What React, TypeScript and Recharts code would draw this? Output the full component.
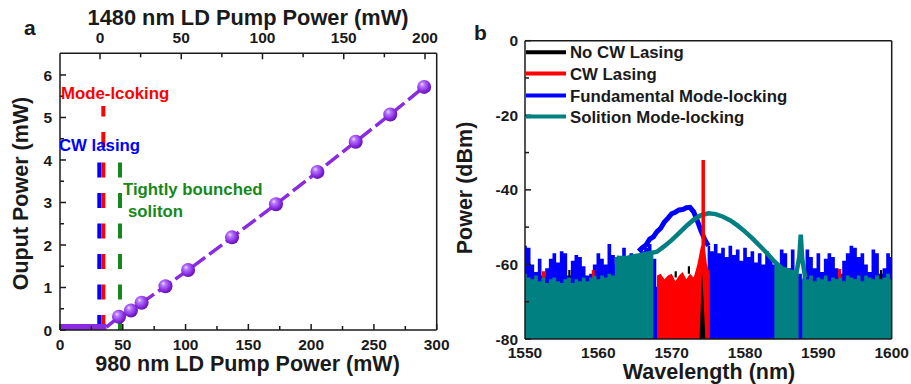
import React from 'react';
import { ComposedChart, Line, Area, Scatter, XAxis, YAxis } from 'recharts';

const FONT = '"Liberation Sans", Arial, Helvetica, sans-serif';
const INK = '#1a1a1a';
const PURPLE = '#8a2be2';
const RED = '#ff0000';
const BLUE = '#0000ff';
const TEAL = '#008080';
const GREEN = '#16881a';

// ---- panel a: output power vs. pump power ----
const PUMP_980_MW = [47, 56.5, 65, 84, 102, 137, 172, 205, 235.5, 263, 290];
const OUTPUT_MW = [0.31, 0.46, 0.64, 1.03, 1.41, 2.18, 2.96, 3.72, 4.43, 5.07, 5.72];
const SUB_THRESHOLD_PUMP = [0, 37];
const SUB_THRESHOLD_OUT = [0.07, 0.07];

// CW lasing, mode-locking, tightly bunched soliton onsets
const THRESHOLD_PUMP = [31.3, 34.5, 47.8];
const THRESHOLD_TOP = [3.94, 5.27, 3.94];
const THRESHOLD_COLORS = [BLUE, RED, GREEN];

const PUMP_980_TICKS = [0, 25, 50, 75, 100, 125, 150, 175, 200, 225, 250, 275, 300];
const PUMP_980_LABELS = [0, 50, 100, 150, 200, 250, 300];
const PUMP_1480_DOMAIN = [-24.6, 207.2];
const PUMP_1480_TICKS = [0, 25, 50, 75, 100, 125, 150, 175, 200];
const PUMP_1480_LABELS = [0, 50, 100, 150, 200];
const OUT_TICKS = [0, 0.5, 1, 1.5, 2, 2.5, 3, 3.5, 4, 4.5, 5, 5.5, 6];
const OUT_LABELS = [0, 1, 2, 3, 4, 5, 6];

// ---- panel b: optical spectra (wavelength nm, dBm) ----
const BLUE_FLOOR: [number, number][] = [
  [1550, -55], [1550.5, -55.5], [1551, -60], [1551.5, -62], [1552, -58.5], [1552.5, -63],
  [1553, -61], [1553.5, -58.5], [1554, -57], [1554.5, -59.5], [1555, -56.5], [1555.5, -57],
  [1556, -63], [1556.5, -59], [1557, -57.5], [1557.5, -58], [1558, -60.5], [1558.5, -63],
  [1559, -62.5], [1559.5, -60], [1560, -57], [1560.5, -58.5], [1561, -60], [1561.5, -54.5],
  [1562, -57.5], [1562.5, -60], [1563, -58.5], [1563.5, -55.5], [1564, -59], [1564.5, -57],
  [1565, -58.5], [1565.5, -57.5], [1566, -56.5], [1566.5, -55.5], [1567, -54.5], [1567.5, -58.5],
  [1567.8, -58.5], [1568, -66], [1569, -66], [1570, -66], [1571, -66], [1572, -66], [1573, -66],
  [1574, -66], [1574.8, -66], [1575, -55], [1575.5, -56.5], [1576, -54.5], [1576.5, -57],
  [1577, -55.5], [1577.5, -58], [1578, -55], [1578.5, -57.5], [1579, -56], [1579.5, -59],
  [1580, -55.5], [1580.5, -58], [1581, -56.5], [1581.5, -59.5], [1582, -57], [1582.5, -60],
  [1583, -56.5], [1583.5, -58.5], [1584, -60], [1584.5, -62], [1585, -56], [1585.5, -57],
  [1586, -61], [1586.5, -56], [1587, -63], [1587.5, -62.5], [1588, -64], [1588.5, -56],
  [1589, -58], [1589.5, -61], [1590, -57], [1590.5, -62], [1591, -58.5], [1591.5, -57],
  [1592, -58], [1592.5, -61], [1593, -62.5], [1593.5, -59], [1594, -57], [1594.5, -55],
  [1595, -55.5], [1595.5, -58], [1596, -57], [1596.5, -60], [1597, -62], [1597.5, -56],
  [1598, -57], [1598.5, -62.5], [1599, -61], [1599.5, -57], [1600, -58],
];

const BLUE_HUMP: [number, number][] = [
  [1565.5, -56.5], [1566, -55.5], [1566.5, -54.8], [1567, -53.2], [1567.5, -52.6], [1568, -51.2],
  [1568.5, -50.3], [1569, -48.6], [1569.5, -47.6], [1570, -46.4], [1570.5, -46], [1571, -45.4],
  [1571.5, -45.3], [1572, -44.8], [1572.5, -44.7], [1573, -45.9], [1573.5, -48.3], [1574, -51],
  [1574.5, -53.3], [1575, -55],
];

// [wavelength, low, high]; null rows break the trace
const RED_TRACE: [number, number | null, number | null][] = [
  [1552.3, -64, -61.8], [1552.8, -64, -61.8], [1552.9, null, null],
  [1559.1, -64, -61.5], [1559.5, -64, -61.5], [1559.6, null, null],
  [1568, -80, -63], [1568.5, -80, -62.5], [1569, -80, -64], [1569.5, -80, -63], [1570, -80, -62.5],
  [1570.5, -80, -64.5], [1571, -80, -63], [1571.5, -80, -62], [1572, -80, -64], [1572.5, -80, -62.5],
  [1573, -80, -63.5], [1573.5, -80, -60], [1574, -80, -55], [1574.5, -80, -55], [1574.8, -80, -60],
  [1575.2, -80, -62.5], [1575.3, null, null],
  [1592.7, -64, -61.2], [1593.1, -64, -61.2],
];
const CW_PEAK: [number, number][] = [[1574.3, -56], [1574.3, -32]];

const BLACK_TRACE: [number, number | null, number | null][] = [
  [1555.9, -64, -61.5], [1556.2, -64, -61.5], [1556.3, null, null],
  [1570.4, -63.5, -61.8], [1570.7, -63.5, -61.8], [1570.8, null, null],
  [1572.2, -62.5, -60.5], [1572.5, -62.5, -60.5], [1572.6, null, null],
  [1573.8, -80, -80], [1574.15, -80, -62], [1574.6, -80, -80], [1574.7, null, null],
  [1598.4, -64, -61.5], [1598.7, -64, -61.5],
];

const TEAL_FLOOR: [number, number | null][] = [
  [1550, -62.5], [1550.5, -63.5], [1551, -64], [1551.5, -63], [1552, -64.5], [1552.5, -63.5],
  [1553, -65], [1553.5, -64], [1554, -63.5], [1554.5, -64.5], [1555, -65], [1555.5, -64],
  [1556, -63.5], [1556.5, -65], [1557, -64], [1557.5, -64.5], [1558, -63.5], [1558.5, -64.5],
  [1559, -63.5], [1559.5, -63], [1560, -64], [1560.5, -63], [1561, -63.5], [1561.5, -62.5],
  [1562, -63], [1562.5, -58], [1563, -58.5], [1563.5, -58], [1564, -58.5], [1564.5, -58],
  [1565, -57.8], [1565.5, -57.5], [1566, -57.5], [1566.5, -57.2], [1567, -57], [1567.5, -56.8],
  [1567.6, null], [1583.9, null],
  [1584, -59.5], [1584.5, -60.3], [1585, -61], [1585.5, -61.2], [1586, -61.5], [1586.5, -62],
  [1587, -62.5], [1587.3, -62.2], [1587.4, null], [1587.7, null], [1587.8, -63.5], [1588, -63],
  [1588.5, -64], [1589, -63], [1589.5, -64.5], [1590, -63.5], [1590.5, -64], [1591, -63],
  [1591.5, -64.5], [1592, -63.5], [1592.5, -64], [1593, -63.5], [1593.5, -64.5], [1594, -63],
  [1594.5, -63.5], [1595, -64], [1595.5, -63], [1596, -64.5], [1596.5, -63], [1597, -63.5],
  [1597.5, -64], [1598, -63], [1598.5, -64], [1599, -63.5], [1599.5, -62.5], [1600, -64],
];

const TEAL_HUMP: [number, number][] = [
  [1562.5, -58.2], [1563, -58.3], [1564, -58.2], [1565, -57.8], [1566, -57.4], [1567, -57],
  [1568, -56.6], [1569, -55.1], [1570, -53.5], [1571, -51.6], [1572, -49.7], [1573, -48],
  [1574, -46.8], [1575, -46.3], [1576, -46.5], [1577, -47.2], [1578, -48.2], [1579, -49.6],
  [1580, -51.2], [1581, -53], [1582, -55], [1583, -57], [1584, -59.2], [1585, -61],
  [1586, -61.8], [1587, -62.4], [1587.4, -58], [1587.6, -52], [1587.8, -58.5], [1588.2, -63.5],
];

const WL_TICKS = [1550, 1560, 1570, 1580, 1590, 1600];
const DBM_TICKS = [-80, -70, -60, -50, -40, -30, -20, -10, 0];
const DBM_LABELS = [-80, -60, -40, -20, 0];

const LEGEND_NAMES = ['No CW Lasing', 'CW Lasing', 'Fundamental Mode-locking', 'Solition Mode-locking'];
const LEGEND_COLORS = ['#000000', RED, BLUE, TEAL];

const AXIS_LINE = { stroke: INK, strokeWidth: 1.5 };
const TICK_TEXT = { fontFamily: FONT, fontWeight: 700, fontSize: 15.5, fill: INK };

// inward ticks with labels on the major ones only
function FrameTick(props: any) {
  const { x, y, payload, side, gap, labels, majorLen = 6, minorLen = 4 } = props;
  const v = payload.value;
  const major = labels.includes(v);
  const len = major ? majorLen : minorLen;
  if (side === 'left') {
    const ax = x + gap;
    return (
      <g>
        {len > 0 && <line x1={ax} x2={ax + len} y1={y} y2={y} stroke={INK} strokeWidth={1.5} />}
        {major && (
          <text x={x} y={y} dy="0.36em" textAnchor="end" style={TICK_TEXT}>
            {v}
          </text>
        )}
      </g>
    );
  }
  if (side === 'top') {
    const ay = y + gap;
    return (
      <g>
        {len > 0 && <line x1={x} x2={x} y1={ay} y2={ay + len} stroke={INK} strokeWidth={1.5} />}
        {major && (
          <text x={x} y={y} textAnchor="middle" style={TICK_TEXT}>
            {v}
          </text>
        )}
      </g>
    );
  }
  const ay = y - gap;
  return (
    <g>
      {len > 0 && <line x1={x} x2={x} y1={ay} y2={ay - len} stroke={INK} strokeWidth={1.5} />}
      {major && (
        <text x={x} y={y} textAnchor="middle" style={TICK_TEXT}>
          {v}
        </text>
      )}
    </g>
  );
}

function Sphere(props: any) {
  const { cx, cy } = props;
  if (cx == null || cy == null) return null;
  return <circle cx={cx} cy={cy} r={7} fill="url(#sphere)" />;
}

function PumpPanel() {
  const measured = PUMP_980_MW.map((pump, i) => ({ pump, out: OUTPUT_MW[i] }));
  const subThreshold = SUB_THRESHOLD_PUMP.map((pump, i) => ({ pump, out: SUB_THRESHOLD_OUT[i] }));
  const rise = [subThreshold[subThreshold.length - 1], ...measured];
  // invisible anchor so the top (1480 nm) and right frame axes get laid out
  const frameAnchor = [
    { pump: PUMP_1480_DOMAIN[0], out: 0 },
    { pump: PUMP_1480_DOMAIN[1], out: 1 },
  ];

  return (
    <ComposedChart width={460} height={384} margin={{ top: 0, right: 0, bottom: 0, left: 0 }}>
      <XAxis
        dataKey="pump"
        type="number"
        domain={[0, 300]}
        ticks={PUMP_980_TICKS}
        interval={0}
        allowDataOverflow
        height={54}
        tickSize={0}
        tickMargin={20}
        axisLine={AXIS_LINE}
        tickLine={false}
        tick={<FrameTick side="bottom" gap={20} labels={PUMP_980_LABELS} />}
      />
      <XAxis
        xAxisId="top"
        dataKey="pump"
        orientation="top"
        type="number"
        domain={PUMP_1480_DOMAIN}
        ticks={PUMP_1480_TICKS}
        interval={0}
        allowDataOverflow
        height={53.3}
        tickSize={0}
        tickMargin={10.3}
        axisLine={AXIS_LINE}
        tickLine={false}
        tick={<FrameTick side="top" gap={10.3} labels={PUMP_1480_LABELS} />}
      />
      <YAxis
        dataKey="out"
        type="number"
        domain={[0, 6.51]}
        ticks={OUT_TICKS}
        interval={0}
        allowDataOverflow
        width={60}
        tickSize={0}
        tickMargin={8}
        axisLine={AXIS_LINE}
        tickLine={false}
        tick={<FrameTick side="left" gap={8} labels={OUT_LABELS} />}
      />
      <YAxis
        yAxisId="frame"
        dataKey="out"
        orientation="right"
        type="number"
        domain={[0, 1]}
        allowDataOverflow
        width={23.3}
        tick={false}
        tickLine={false}
        axisLine={AXIS_LINE}
      />
      <Line
        xAxisId="top"
        yAxisId="frame"
        data={frameAnchor}
        dataKey="out"
        stroke="none"
        dot={false}
        legendType="none"
        isAnimationActive={false}
      />
      {THRESHOLD_PUMP.map((p, i) => (
        <Line
          key={`th-${i}`}
          data={[
            { pump: p, out: 0 },
            { pump: p, out: THRESHOLD_TOP[i] },
          ]}
          dataKey="out"
          stroke={THRESHOLD_COLORS[i]}
          strokeWidth={4}
          strokeDasharray="15 15.5"
          dot={false}
          isAnimationActive={false}
        />
      ))}
      <Line data={subThreshold} dataKey="out" stroke={PURPLE} strokeWidth={6} dot={false} isAnimationActive={false} />
      <Line
        data={rise}
        dataKey="out"
        stroke={PURPLE}
        strokeWidth={3.5}
        strokeDasharray="16 5"
        dot={false}
        isAnimationActive={false}
      />
      <Scatter data={measured} dataKey="out" shape={<Sphere />} isAnimationActive={false} />
    </ComposedChart>
  );
}

function SpectrumPanel() {
  const blueFloor = BLUE_FLOOR.map(([wl, dbm]) => ({ wl, dbm }));
  const blueHump = BLUE_HUMP.map(([wl, dbm]) => ({ wl, dbm }));
  const red = RED_TRACE.map(([wl, lo, hi]) => ({ wl, band: lo == null ? null : [lo, hi] }));
  const black = BLACK_TRACE.map(([wl, lo, hi]) => ({ wl, band: lo == null ? null : [lo, hi] }));
  const cwPeak = CW_PEAK.map(([wl, dbm]) => ({ wl, dbm }));
  const tealFloor = TEAL_FLOOR.map(([wl, dbm]) => ({ wl, dbm }));
  const tealHump = TEAL_HUMP.map(([wl, dbm]) => ({ wl, dbm }));
  const frameAnchor = [
    { wl: 0, dbm: 0 },
    { wl: 1, dbm: 1 },
  ];

  return (
    <ComposedChart width={461} height={384} margin={{ top: 0, right: 0, bottom: 0, left: 0 }}>
      <XAxis
        dataKey="wl"
        type="number"
        domain={[1550, 1600]}
        ticks={WL_TICKS}
        interval={0}
        allowDataOverflow
        height={45}
        tickSize={0}
        tickMargin={19}
        axisLine={AXIS_LINE}
        tickLine={false}
        tick={<FrameTick side="bottom" gap={19} labels={WL_TICKS} majorLen={0} />}
      />
      <XAxis
        xAxisId="top"
        dataKey="wl"
        orientation="top"
        type="number"
        domain={[0, 1]}
        allowDataOverflow
        height={40.7}
        tick={false}
        tickLine={false}
        axisLine={AXIS_LINE}
      />
      <YAxis
        type="number"
        domain={[-80, 0]}
        ticks={DBM_TICKS}
        interval={0}
        allowDataOverflow
        width={75}
        tickSize={0}
        tickMargin={7}
        axisLine={AXIS_LINE}
        tickLine={false}
        tick={<FrameTick side="left" gap={7} labels={DBM_LABELS} />}
      />
      <YAxis
        yAxisId="frame"
        orientation="right"
        type="number"
        domain={[0, 1]}
        allowDataOverflow
        width={19.3}
        tick={false}
        tickLine={false}
        axisLine={AXIS_LINE}
      />
      <Line
        xAxisId="top"
        yAxisId="frame"
        data={frameAnchor}
        dataKey="dbm"
        stroke="none"
        dot={false}
        legendType="none"
        isAnimationActive={false}
      />
      <Area
        data={blueFloor}
        dataKey="dbm"
        type="step"
        baseValue="dataMin"
        stroke="none"
        fill={BLUE}
        fillOpacity={1}
        isAnimationActive={false}
      />
      <Area
        data={red}
        dataKey="band"
        type="linear"
        stroke="none"
        fill={RED}
        fillOpacity={1}
        isAnimationActive={false}
      />
      <Area
        data={black}
        dataKey="band"
        type="linear"
        stroke="none"
        fill="#000000"
        fillOpacity={1}
        isAnimationActive={false}
      />
      <Area
        data={tealFloor}
        dataKey="dbm"
        type="step"
        baseValue="dataMin"
        stroke="none"
        fill={TEAL}
        fillOpacity={1}
        isAnimationActive={false}
      />
      <Line data={blueHump} dataKey="dbm" stroke={BLUE} strokeWidth={5} dot={false} isAnimationActive={false} />
      <Line data={tealHump} dataKey="dbm" stroke={TEAL} strokeWidth={4.5} dot={false} isAnimationActive={false} />
      <Line data={cwPeak} dataKey="dbm" stroke={RED} strokeWidth={3.5} dot={false} isAnimationActive={false} />
    </ComposedChart>
  );
}

const TITLE = { fontFamily: FONT, fontWeight: 700, fontSize: 21.5, fill: INK };
const NOTE = { fontFamily: FONT, fontWeight: 700, fontSize: 16.8 };
const LEGEND_ROWS = [52.3, 73.5, 95.5, 116.5];

export default function App() {
  return (
    <div style={{ position: 'absolute', left: 0, top: 0, width: 911, height: 384, background: '#fff', overflow: 'hidden' }}>
      <div style={{ position: 'absolute', left: 0, top: 0 }}>
        <PumpPanel />
      </div>
      <div style={{ position: 'absolute', left: 450, top: 0 }}>
        <SpectrumPanel />
      </div>
      <svg
        width={911}
        height={384}
        style={{ position: 'absolute', left: 0, top: 0, pointerEvents: 'none' }}
      >
        <defs>
          <radialGradient id="sphere" cx="0.42" cy="0.4" r="0.62" fx="0.34" fy="0.3">
            <stop offset="0%" stopColor="#efe0ff" />
            <stop offset="25%" stopColor="#b77aff" />
            <stop offset="70%" stopColor="#8a2be2" />
            <stop offset="100%" stopColor="#5a12a6" />
          </radialGradient>
        </defs>

        <text x={24} y={35} style={{ ...TITLE, fontSize: 21 }}>a</text>
        <text x={474} y={40} style={{ ...TITLE, fontSize: 21 }}>b</text>

        <text x={248} y={25} textAnchor="middle" style={{ ...TITLE, fontSize: 21.8 }}>1480 nm LD Pump Power (mW)</text>
        <text x={247.5} y={371} textAnchor="middle" style={TITLE}>980 nm LD Pump Power (mW)</text>
        <text x={28} y={193.5} textAnchor="middle" transform="rotate(-90 28 193.5)" style={TITLE}>
          Ouput Power (mW)
        </text>
        <text x={709} y={378.5} textAnchor="middle" style={TITLE}>Wavelength (nm)</text>
        <text x={472} y={188} textAnchor="middle" transform="rotate(-90 472 188)" style={TITLE}>
          Power (dBm)
        </text>

        <text x={61} y={99} style={{ ...NOTE, fill: RED }}>Mode-lcoking</text>
        <text x={59} y={151} style={{ ...NOTE, fill: BLUE }}>CW lasing</text>
        <text x={123} y={195} style={{ ...NOTE, fill: GREEN }}>Tightly bounched</text>
        <text x={128} y={217} style={{ ...NOTE, fill: GREEN }}>soliton</text>

        {LEGEND_NAMES.map((name, i) => (
          <g key={name}>
            <line x1={526} x2={566} y1={LEGEND_ROWS[i]} y2={LEGEND_ROWS[i]} stroke={LEGEND_COLORS[i]} strokeWidth={4} />
            <text x={570} y={LEGEND_ROWS[i] + 6} style={{ ...NOTE, fill: INK }}>
              {name}
            </text>
          </g>
        ))}
      </svg>
    </div>
  );
}
